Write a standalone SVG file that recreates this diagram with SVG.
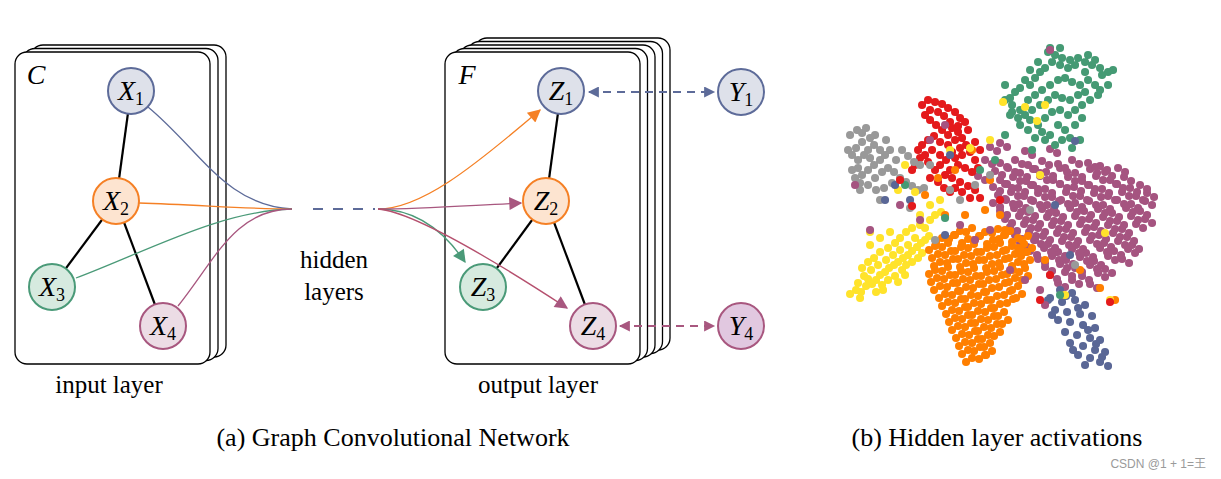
<svg xmlns="http://www.w3.org/2000/svg" xmlns:xlink="http://www.w3.org/1999/xlink" width="1221" height="479" viewBox="0 0 1221 479">
<defs>
<style>
.card{fill:#fff;stroke:#000;stroke-width:1.3}
.edge{stroke:#000;stroke-width:2.2}
.nb{stroke:#5d6b99;fill:#dee1ea;stroke-width:2}
.no{stroke:#f58025;fill:#fde4d0;stroke-width:2}
.ng{stroke:#4a9a78;fill:#d6eadf;stroke-width:2}
.np{stroke:#a8577f;fill:#ecdce5;stroke-width:2}
.ny4{stroke:#a8577f;fill:#e1c8e0;stroke-width:2}
.ml{font-family:"Liberation Serif",serif;font-size:28px;fill:#000;text-anchor:middle}
.i{font-style:italic}
.sub{font-size:18px}
.lbl{font-family:"Liberation Serif",serif;font-size:25px;fill:#000;text-anchor:middle}
.cap{font-family:"Liberation Serif",serif;font-size:26px;fill:#000;text-anchor:middle}
.c{fill:none;stroke-width:1.3}
.d{fill:none;stroke-width:8;stroke-linecap:round}
</style>
<marker id="aO" viewBox="0 0 10 10" refX="9" refY="5" markerWidth="15" markerHeight="13" markerUnits="userSpaceOnUse" orient="auto"><path d="M0 0L10 5L0 10z" fill="#f58025"/></marker>
<marker id="aP" viewBox="0 0 10 10" refX="9" refY="5" markerWidth="15" markerHeight="13" markerUnits="userSpaceOnUse" orient="auto"><path d="M0 0L10 5L0 10z" fill="#a8577f"/></marker>
<marker id="aG" viewBox="0 0 10 10" refX="9" refY="5" markerWidth="15" markerHeight="13" markerUnits="userSpaceOnUse" orient="auto"><path d="M0 0L10 5L0 10z" fill="#4a9a78"/></marker>
<marker id="aB" viewBox="0 0 10 10" refX="9" refY="5" markerWidth="13" markerHeight="11" markerUnits="userSpaceOnUse" orient="auto-start-reverse"><path d="M0 0L10 5L0 10z" fill="#5d6b99"/></marker>
<marker id="aP2" viewBox="0 0 10 10" refX="9" refY="5" markerWidth="13" markerHeight="11" markerUnits="userSpaceOnUse" orient="auto-start-reverse"><path d="M0 0L10 5L0 10z" fill="#a8577f"/></marker>
</defs>
<rect width="1221" height="479" fill="#fff"/>

<g id="input-layer">
<rect class="card" x="31" y="45" width="195" height="312" rx="12"/>
<rect class="card" x="23" y="48.5" width="195" height="312" rx="12"/>
<rect class="card" x="15" y="52" width="195" height="312" rx="12"/>
<text class="ml i" x="36" y="84">C</text>
</g>

<g id="output-layer">
<rect class="card" x="475" y="38" width="195" height="312" rx="12"/>
<rect class="card" x="467.5" y="41.5" width="195" height="312" rx="12"/>
<rect class="card" x="460" y="45" width="195" height="312" rx="12"/>
<rect class="card" x="452.5" y="48.5" width="195" height="312" rx="12"/>
<rect class="card" x="445" y="52" width="195" height="312" rx="12"/>
<text class="ml i" x="467" y="84">F</text>
</g>

<g id="connectors">
<line class="edge" x1="131" y1="91" x2="116" y2="201"/>
<line class="edge" x1="116" y1="201" x2="52" y2="287"/>
<line class="edge" x1="116" y1="201" x2="163" y2="326"/>
<line class="edge" x1="561" y1="91" x2="546" y2="201"/>
<line class="edge" x1="546" y1="201" x2="483" y2="287"/>
<line class="edge" x1="546" y1="201" x2="593" y2="326"/>
<path class="c" stroke="#5d6b99" d="M148 107C200 150 225 205 292 209"/>
<path class="c" stroke="#f58025" d="M139 203C200 205 250 209 292 209"/>
<path class="c" stroke="#4a9a78" d="M76 278C150 250 220 211 292 209"/>
<path class="c" stroke="#a8577f" d="M178 306C215 260 235 209 292 209"/>
<path fill="none" stroke="#5d6b99" stroke-width="2" stroke-dasharray="10 10" d="M313 209H375"/>
<path class="c" stroke="#f58025" marker-end="url(#aO)" d="M378 209C420 209 470 170 540 110"/>
<path class="c" stroke="#4a9a78" marker-end="url(#aG)" d="M378 209C410 209 440 225 465 262"/>
<path class="c" stroke="#a8577f" marker-end="url(#aP)" d="M378 209C420 209 460 206 521 203"/>
<path class="c" stroke="#b5506e" marker-end="url(#aP)" d="M378 209Q420 212 567 308"/>
<path fill="none" stroke="#5d6b99" stroke-width="2" stroke-dasharray="8 6" marker-start="url(#aB)" marker-end="url(#aB)" d="M589 92H714"/>
<path fill="none" stroke="#a8577f" stroke-width="2" stroke-dasharray="8 6" marker-start="url(#aP2)" marker-end="url(#aP2)" d="M620 326H714"/>
</g>

<g id="X1"><circle class="nb" cx="131" cy="91" r="23"/><text class="ml" x="131" y="100"><tspan class="i">X</tspan><tspan class="sub" dy="5">1</tspan></text></g>
<g id="X2"><circle class="no" cx="116" cy="201" r="23"/><text class="ml" x="116" y="210"><tspan class="i">X</tspan><tspan class="sub" dy="5">2</tspan></text></g>
<g id="X3"><circle class="ng" cx="52" cy="287" r="23"/><text class="ml" x="52" y="296"><tspan class="i">X</tspan><tspan class="sub" dy="5">3</tspan></text></g>
<g id="X4"><circle class="np" cx="163" cy="326" r="23"/><text class="ml" x="163" y="335"><tspan class="i">X</tspan><tspan class="sub" dy="5">4</tspan></text></g>
<g id="Z1"><circle class="nb" cx="561" cy="91" r="23"/><text class="ml" x="561" y="100"><tspan class="i">Z</tspan><tspan class="sub" dy="5">1</tspan></text></g>
<g id="Z2"><circle class="no" cx="546" cy="201" r="23"/><text class="ml" x="546" y="210"><tspan class="i">Z</tspan><tspan class="sub" dy="5">2</tspan></text></g>
<g id="Z3"><circle class="ng" cx="483" cy="287" r="23"/><text class="ml" x="483" y="296"><tspan class="i">Z</tspan><tspan class="sub" dy="5">3</tspan></text></g>
<g id="Z4"><circle class="np" cx="593" cy="326" r="23"/><text class="ml" x="593" y="335"><tspan class="i">Z</tspan><tspan class="sub" dy="5">4</tspan></text></g>
<g id="Y1"><circle class="nb" cx="741" cy="92" r="23"/><text class="ml" x="741" y="101"><tspan class="i">Y</tspan><tspan class="sub" dy="5">1</tspan></text></g>
<g id="Y4"><circle class="ny4" cx="741" cy="326" r="23"/><text class="ml" x="741" y="335"><tspan class="i">Y</tspan><tspan class="sub" dy="5">4</tspan></text></g>

<g id="labels">
<text class="lbl" x="334" y="268">hidden</text>
<text class="lbl" x="334" y="300">layers</text>
<text class="lbl" x="109" y="393">input layer</text>
<text class="lbl" x="538" y="393">output layer</text>
<text class="cap" x="393" y="446">(a) Graph Convolutional Network</text>
<text class="cap" x="997" y="446">(b) Hidden layer activations</text>
<text x="1206" y="468" font-family="'Liberation Sans','Noto Sans CJK SC',sans-serif" font-size="12" fill="#9a9a9a" text-anchor="end">CSDN @1 + 1=王</text>
</g>

<g id="scatter">
<path id="pp" class="d" stroke="#a55480" d="M1025 151h.1M1050 149h.1M1000 143h.1M990 147h.1M985 160h.1M978 176h.1M1000 163h.1M1015 160h.1M1028 165h.1M1042 161h.1M1058 164h.1M1072 160h.1M1088 163h.1M1100 166h.1M995 171h.1M1008 168h.1M1020 173h.1M1033 169h.1M1046 172h.1M1060 168h.1M1075 173h.1M1090 169h.1M1105 172h.1M1118 168h.1M1000 180h.1M1013 177h.1M1026 181h.1M1040 176h.1M1053 180h.1M1068 177h.1M1082 181h.1M1096 176h.1M1110 180h.1M1124 177h.1M993 187h.1M1005 184h.1M1018 188h.1M1031 185h.1M1045 189h.1M1060 184h.1M1074 187h.1M1088 185h.1M1102 189h.1M1116 184h.1M1130 188h.1M1140 185h.1M998 195h.1M1011 192h.1M1024 196h.1M1038 193h.1M1052 197h.1M1066 192h.1M1080 196h.1M1094 193h.1M1108 196h.1M1122 192h.1M1136 196h.1M1147 193h.1M993 203h.1M1006 200h.1M1019 204h.1M1033 201h.1M1047 205h.1M1061 200h.1M1075 203h.1M1089 201h.1M1103 205h.1M1117 200h.1M1131 204h.1M1145 201h.1M1000 211h.1M1014 208h.1M1028 212h.1M1042 209h.1M1056 213h.1M1070 208h.1M1084 211h.1M1098 209h.1M1112 213h.1M1126 208h.1M1140 211h.1M1005 219h.1M1019 216h.1M1033 220h.1M1047 217h.1M1061 221h.1M1075 216h.1M1089 219h.1M1103 217h.1M1117 221h.1M1131 216h.1M1145 219h.1M1010 227h.1M1024 224h.1M1038 228h.1M1052 225h.1M1066 229h.1M1080 224h.1M1094 227h.1M1108 225h.1M1122 229h.1M1136 224h.1M1015 235h.1M1029 232h.1M1043 236h.1M1057 233h.1M1071 237h.1M1085 232h.1M1099 235h.1M1113 233h.1M1127 237h.1M1020 243h.1M1034 240h.1M1048 244h.1M1062 241h.1M1076 245h.1M1090 240h.1M1104 243h.1M1118 241h.1M1132 245h.1M1030 251h.1M1044 248h.1M1058 252h.1M1072 249h.1M1086 253h.1M1100 248h.1M1114 251h.1M1128 249h.1M1038 259h.1M1052 256h.1M1066 260h.1M1080 257h.1M1094 261h.1M1108 256h.1M1122 259h.1M1045 267h.1M1060 264h.1M1075 268h.1M1090 265h.1M1105 269h.1M1050 275h.1M1065 272h.1M1082 276h.1M1098 273h.1M1058 283h.1M1072 280h.1M1090 284h.1"/>
<use xlink:href="#pp" href="#pp" transform="translate(7,4)"/>
<path class="d" stroke="#459a74" d="M1048 52h.1M1055 55h.1M1062 58h.1M1070 60h.1M1078 58h.1M1085 62h.1M1092 65h.1M1100 68h.1M1108 72h.1M1113 70h.1M1095 60h.1M1088 55h.1M1102 75h.1M1075 65h.1M1068 68h.1M1060 65h.1M1052 62h.1M1045 68h.1M1040 72h.1M1035 78h.1M1030 85h.1M1025 80h.1M1020 88h.1M1015 92h.1M1010 98h.1M1005 100h.1M1012 105h.1M1020 110h.1M1028 100h.1M1035 95h.1M1042 90h.1M1050 85h.1M1058 80h.1M1065 78h.1M1072 82h.1M1080 85h.1M1088 80h.1M1095 85h.1M1100 90h.1M1085 92h.1M1078 95h.1M1070 100h.1M1062 98h.1M1055 95h.1M1048 100h.1M1040 105h.1M1032 110h.1M1025 115h.1M1018 118h.1M1012 112h.1M1030 120h.1M1038 125h.1M1045 118h.1M1052 112h.1M1060 110h.1M1068 115h.1M1075 110h.1M1082 105h.1M1090 100h.1M1058 125h.1M1065 130h.1M1070 138h.1M1062 140h.1M1050 135h.1M1045 140h.1M1055 145h.1M1075 125h.1M1082 118h.1M1042 132h.1M1035 138h.1M1005 85h.1M1030 70h.1M1038 62h.1M1085 72h.1M1098 95h.1M1108 85h.1M1050 48h.1M1060 48h.1M1032 150h.1M1072 148h.1M1080 140h.1M1028 130h.1M1020 125h.1M1010 115h.1"/>
<path class="d" stroke="#e41a1c" d="M922 105h.1M928 100h.1M935 102h.1M942 104h.1M948 108h.1M955 112h.1M960 118h.1M965 122h.1M958 126h.1M950 122h.1M944 116h.1M938 112h.1M930 110h.1M925 115h.1M930 120h.1M936 125h.1M942 130h.1M948 135h.1M952 128h.1M958 132h.1M962 138h.1M955 140h.1M948 145h.1M940 142h.1M934 136h.1M928 140h.1M922 145h.1M918 150h.1M925 155h.1M932 150h.1M940 155h.1M946 160h.1M952 152h.1M960 148h.1M966 145h.1M970 152h.1M975 160h.1M978 168h.1M972 172h.1M965 168h.1M958 165h.1M950 170h.1M945 175h.1M952 178h.1M960 182h.1M968 186h.1M975 190h.1M980 198h.1M970 198h.1M962 192h.1M955 188h.1M940 165h.1M935 170h.1M928 162h.1M920 158h.1M915 165h.1M912 170h.1M930 178h.1M938 182h.1M944 188h.1M950 192h.1M980 150h.1M975 142h.1M968 130h.1M955 158h.1M962 155h.1"/>
<path class="d" stroke="#999999" d="M850 135h.1M857 130h.1M862 133h.1M866 128h.1M870 138h.1M875 135h.1M862 142h.1M856 148h.1M852 155h.1M858 160h.1M864 155h.1M868 150h.1M874 145h.1M880 150h.1M885 155h.1M880 160h.1M874 165h.1M868 170h.1M862 175h.1M858 168h.1M855 178h.1M860 183h.1M868 185h.1M875 178h.1M882 172h.1M888 168h.1M894 172h.1M900 178h.1M906 182h.1M912 186h.1M918 190h.1M924 188h.1M896 160h.1M890 150h.1M902 150h.1M908 156h.1M914 162h.1M920 165h.1M876 190h.1M884 188h.1M892 183h.1M870 158h.1M886 140h.1M860 190h.1M852 170h.1M848 150h.1"/>
<path class="d" stroke="#ffe32b" d="M850 294h.1M856 290h.1M861 292h.1M866 286h.1M872 284h.1M868 279h.1M876 280h.1M880 275h.1M885 272h.1M889 268h.1M894 265h.1M898 262h.1M903 258h.1M908 255h.1M912 251h.1M917 247h.1M921 243h.1M925 240h.1M929 236h.1M915 238h.1M908 245h.1M900 250h.1M893 255h.1M886 260h.1M878 265h.1M871 270h.1M864 276h.1M858 283h.1M882 285h.1M888 280h.1M895 276h.1M902 270h.1M906 265h.1M912 262h.1M918 258h.1M922 253h.1M862 268h.1M868 262h.1M874 258h.1M880 252h.1M888 248h.1M895 243h.1M900 238h.1M906 232h.1M912 228h.1M920 225h.1M890 232h.1M880 238h.1M870 245h.1M876 292h.1M883 290h.1M860 298h.1M905 275h.1M898 282h.1M870 232h.1M925 228h.1M930 220h.1M935 215h.1M941 212h.1"/>
<path id="po" class="d" stroke="#ff7f00" d="M960 231h.1M972 228h.1M985 232h.1M998 229h.1M1010 231h.1M942 238h.1M955 235h.1M968 239h.1M980 236h.1M993 240h.1M1005 235h.1M1018 238h.1M1028 236h.1M935 246h.1M948 243h.1M961 247h.1M974 244h.1M987 248h.1M1000 243h.1M1012 246h.1M1024 244h.1M1032 248h.1M938 254h.1M951 251h.1M964 255h.1M977 252h.1M990 256h.1M1003 251h.1M1015 254h.1M1027 252h.1M940 262h.1M953 259h.1M966 263h.1M979 260h.1M992 264h.1M1005 259h.1M1018 262h.1M1030 260h.1M935 270h.1M948 267h.1M961 271h.1M974 268h.1M987 272h.1M1000 267h.1M1013 270h.1M1025 268h.1M937 278h.1M950 275h.1M963 279h.1M976 276h.1M989 280h.1M1002 275h.1M1015 278h.1M1028 276h.1M940 286h.1M953 283h.1M966 287h.1M979 284h.1M992 288h.1M1005 283h.1M1018 286h.1M945 294h.1M958 291h.1M971 295h.1M984 292h.1M997 296h.1M1010 291h.1M1022 294h.1M948 302h.1M961 299h.1M974 303h.1M987 300h.1M1000 304h.1M1013 299h.1M952 310h.1M965 307h.1M978 311h.1M991 308h.1M1004 312h.1M955 318h.1M968 315h.1M981 319h.1M994 316h.1M1008 320h.1M958 326h.1M971 323h.1M984 327h.1M997 324h.1M962 334h.1M975 331h.1M988 335h.1M1000 332h.1M965 342h.1M978 339h.1M990 343h.1M968 350h.1M980 347h.1M992 351h.1M972 358h.1M985 355h.1"/>
<use xlink:href="#po" href="#po" transform="translate(-6,4)"/>
<path class="d" stroke="#5a6796" d="M1060 290h.1M1072 293h.1M1050 298h.1M1062 302h.1M1075 300h.1M1085 305h.1M1055 310h.1M1067 312h.1M1080 314h.1M1092 316h.1M1058 320h.1M1070 322h.1M1083 325h.1M1095 328h.1M1065 332h.1M1077 335h.1M1090 338h.1M1100 340h.1M1070 343h.1M1083 346h.1M1095 350h.1M1105 352h.1M1078 355h.1M1090 358h.1M1100 362h.1M1108 366h.1M1085 365h.1M1048 300h.1M1052 315h.1M1066 296h.1M1078 308h.1M1088 330h.1M1073 350h.1M1096 344h.1M1102 357h.1"/>
<path class="d" stroke="#ff7f00" d="M938 178h.1M955 170h.1M972 150h.1M990 180h.1M985 210h.1M1005 230h.1M1020 250h.1M1045 260h.1M1080 270h.1M1100 288h.1M1115 300h.1M1000 215h.1M945 215h.1M925 195h.1M965 215h.1"/>
<path class="d" stroke="#ffe32b" d="M905 165h.1M915 192h.1M930 205h.1M950 150h.1M970 148h.1M990 140h.1M1040 175h.1M1105 233h.1M1110 300h.1M1065 295h.1M898 190h.1M920 215h.1M940 200h.1M1003 102h.1M1025 107h.1M1037 121h.1M1045 105h.1"/>
<path class="d" stroke="#999999" d="M930 165h.1M950 190h.1M960 200h.1M975 185h.1M990 175h.1M1030 210h.1M1075 265h.1M935 240h.1M880 200h.1M910 208h.1"/>
<path class="d" stroke="#459a74" d="M905 185h.1M945 218h.1M980 170h.1M995 160h.1M1005 135h.1M1060 295h.1"/>
<path class="d" stroke="#5a6796" d="M885 200h.1M895 185h.1M910 200h.1M945 235h.1M950 155h.1M1055 205h.1M1070 255h.1M1075 141h.1"/>
<path class="d" stroke="#a55480" d="M855 185h.1M870 230h.1M900 205h.1M920 220h.1M960 225h.1M975 240h.1M990 230h.1M1035 240h.1M1010 270h.1M1025 280h.1M1040 290h.1M1045 305h.1M930 140h.1M945 125h.1M1050 50h.1"/>
<path class="d" stroke="#e41a1c" d="M900 180h.1M912 206h.1M1000 200h.1M1110 302h.1M1040 300h.1M1050 275h.1"/>
</g>
</svg>
